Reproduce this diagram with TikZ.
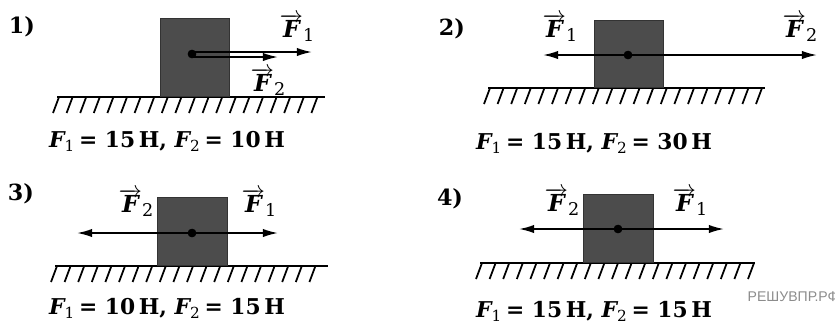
\documentclass[tikz,border=0pt]{standalone}
\usepackage{fontspec}
\setmainfont{DejaVu Serif}
\newfontfamily\wmfont{Liberation Sans}
\usetikzlibrary{arrows.meta}

% force names
\newcommand{\vecF}[1]{${\scriptstyle\overrightarrow{\mbox{\bfseries\itshape\kern0.5pt F\kern0.5pt}}}$\raisebox{-0.35ex}{\mdseries\fontsize{7.5}{8}\selectfont #1}}
\newcommand{\Fs}[1]{{\itshape F}\textsubscript{\mdseries #1}}

\begin{document}
\begin{tikzpicture}[x=0.015cm, y=-0.015cm,
    block/.style={draw=black!80, fill=black!70, inner sep=0pt},
    cpoint/.style={circle, fill=black, inner sep=0pt, minimum size=3.6pt},
    force/.style={line width=0.75pt, -{Latex[length=6.5pt,width=3.6pt]}},
    ground/.style={line width=0.95pt},
    hatch/.style={line width=0.75pt},
    num/.style={font=\bfseries\fontsize{9.5}{11}\selectfont},
    flabel/.style={font=\bfseries\fontsize{10}{11}\selectfont},
    caption/.style={font=\bfseries\fontsize{9.3}{11}\selectfont}]
    \useasboundingbox (0,0) rectangle (835,322);

    % floors with hatching
    \foreach \xa/\xb/\gy in {57/325/97, 488/765/88, 55/328/266, 480/755/263}{
        \draw [ground] (\xa,\gy) -- (\xb,\gy);
        \pgfmathtruncatemacro{\nh}{(\xb-\xa-2)/13.6}
        \foreach \k in {0,...,\nh}
            \draw [hatch] (\xa+2+\k*13.6,\gy) -- ++(-6,16);
    }

    % 1)
    \node [num] (n1) at (22,27) {1)};
    \node [block, minimum width=1.035cm, minimum height=1.17cm] (b1) at (194.5,57) {};
    \node [cpoint] (d1) at (192,54) {};
    \coordinate (e1a) at (312,52);
    \coordinate (e1b) at (278,57);
    \draw [force] (d1 |- e1a) -- (e1a);
    \draw [force] (d1 |- e1b) -- (e1b);
    \node [cpoint] at (d1) {};
    \node [flabel] (f1a) at (297,28) {\vecF{1}};
    \node [flabel] (f1b) at (268,82) {\vecF{2}};
    \node [caption] (c1) at (167,141) {\Fs{1}\,= 15\,Н, \Fs{2}\,= 10\,Н};

    % 2)
    \node [num] (n2) at (452,29) {2)};
    \node [block, minimum width=1.035cm, minimum height=1.005cm] (b2) at (628.5,53.5) {};
    \node [cpoint] (d2) at (628,55) {};
    \coordinate (e2a) at (543,55);
    \coordinate (e2b) at (817,55);
    \draw [force] (d2.center) -- (e2a);
    \draw [force] (d2.center) -- (e2b);
    \node [cpoint] at (d2) {};
    \node [flabel] (f2a) at (560,28) {\vecF{1}};
    \node [flabel] (f2b) at (800,28) {\vecF{2}};
    \node [caption] (c2) at (594,143) {\Fs{1}\,= 15\,Н, \Fs{2}\,= 30\,Н};

    % 3)
    \node [num] (n3) at (21,194) {3)};
    \node [block, minimum width=1.05cm, minimum height=1.02cm] (b3) at (192,231) {};
    \node [cpoint] (d3) at (192,233) {};
    \coordinate (e3a) at (278,233);
    \coordinate (e3b) at (77,233);
    \draw [force] (d3.center) -- (e3a);
    \draw [force] (d3.center) -- (e3b);
    \node [cpoint] at (d3) {};
    \node [flabel] (f3a) at (259,203) {\vecF{1}};
    \node [flabel] (f3b) at (136,203) {\vecF{2}};
    \node [caption] (c3) at (167,308) {\Fs{1}\,= 10\,Н, \Fs{2}\,= 15\,Н};

    % 4)
    \node [num] (n4) at (450,199) {4)};
    \node [block, minimum width=1.05cm, minimum height=1.02cm] (b4) at (618,228) {};
    \node [cpoint] (d4) at (618,229) {};
    \coordinate (e4a) at (724,229);
    \coordinate (e4b) at (519,229);
    \draw [force] (d4.center) -- (e4a);
    \draw [force] (d4.center) -- (e4b);
    \node [cpoint] at (d4) {};
    \node [flabel] (f4a) at (690,202) {\vecF{1}};
    \node [flabel] (f4b) at (562,202) {\vecF{2}};
    \node [caption] (c4) at (594,311) {\Fs{1}\,= 15\,Н, \Fs{2}\,= 15\,Н};

    \node [font=\wmfont\fontsize{6}{7}\selectfont, text=black!45] (wm) at (793,297) {РЕШУВПР.РФ};
\end{tikzpicture}
\end{document}
